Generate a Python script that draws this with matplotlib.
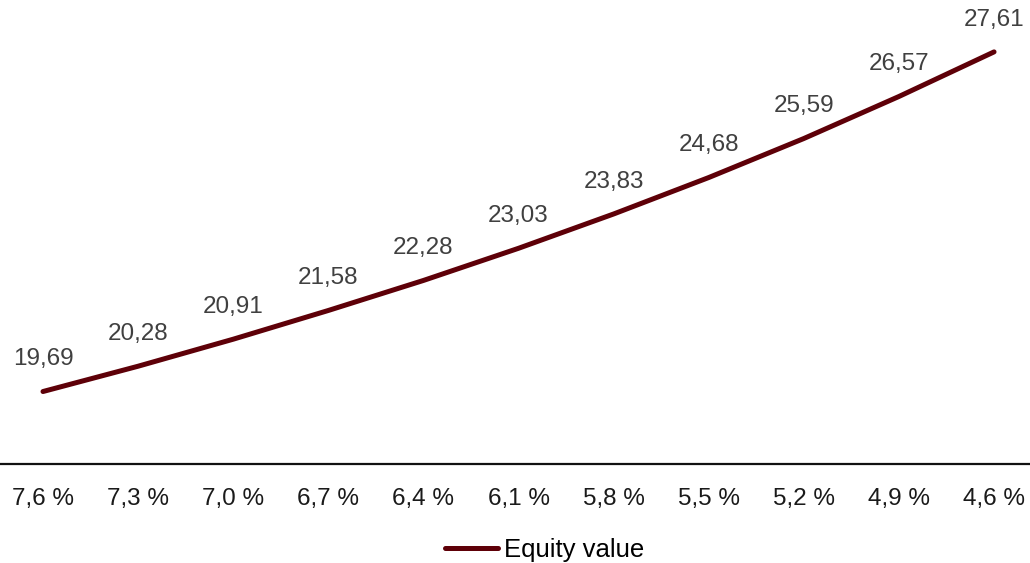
import matplotlib
matplotlib.use("Agg")
import matplotlib.pyplot as plt
from matplotlib.lines import Line2D

categories = ["7,6 %", "7,3 %", "7,0 %", "6,7 %", "6,4 %", "6,1 %", "5,8 %", "5,5 %", "5,2 %", "4,9 %", "4,6 %"]
equity_value = [19.69, 20.28, 20.91, 21.58, 22.28, 23.03, 23.83, 24.68, 25.59, 26.57, 27.61]
series_name = "Equity value"

plt.rcParams['font.family'] = ['Liberation Sans', 'DejaVu Sans']

fig = plt.figure(figsize=(10.3, 5.63), dpi=100)
ax = fig.add_axes([0, 99/563, 1, 464/563])

x = list(range(len(categories)))
line_color = "#5e0008"
ax.plot(x, equity_value, color=line_color, lw=3.6, solid_capstyle='round', solid_joinstyle='round')

for xi, v in zip(x, equity_value):
    ax.annotate(f"{v:.2f}".replace(".", ","), (xi, v), xytext=(0, 23.3), textcoords='offset points',
                ha='center', va='center', fontsize=17.5, color="#404040")

ax.set_xlim(-0.452, 10.378)
ax.set_ylim(18, 28.82)
ax.set_xticks(x)
ax.set_xticklabels(categories, fontsize=17.5, color="#1a1a1a")
ax.tick_params(axis='x', length=0, pad=17)
ax.set_yticks([])
for s in ['top', 'right', 'left']:
    ax.spines[s].set_visible(False)
ax.spines['bottom'].set_linewidth(1.6)
ax.spines['bottom'].set_color("#111111")

handle = Line2D([], [], color=line_color, lw=3.6, solid_capstyle='round')
fig.legend([handle], [series_name], loc='center', bbox_to_anchor=(0.529, 13/563), frameon=False,
           fontsize=18.5, handlelength=2.05, handletextpad=0.25, borderpad=0)

fig.savefig("out.png", dpi=100)
